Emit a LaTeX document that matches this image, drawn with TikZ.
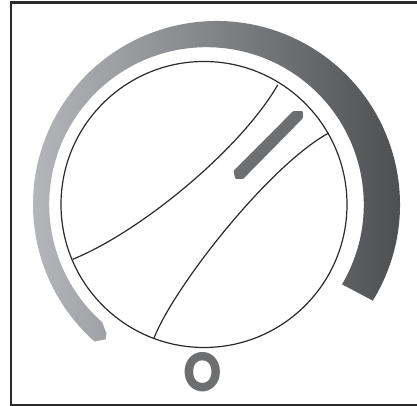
\documentclass[tikz,border=0pt]{standalone}
\usepackage{fontspec}
\usetikzlibrary{calc}
\setmainfont{Poppins}
\definecolor{framecol}{HTML}{2B2A2B}
\definecolor{linecol}{HTML}{2A2A2C}
\definecolor{markcol}{HTML}{6D6E70}
\definecolor{bandlight}{HTML}{BABBBE}
\definecolor{banddark}{HTML}{47484A}
\tikzset{
  framestyle/.style={draw=framecol,line width=2.4pt},
  dialline/.style={draw=linecol,line width=1.2pt},
  band/.style={left color=bandlight,right color=banddark,draw=none},
  pointer/.style={fill=markcol,draw=none,rounded corners=0.8pt},
  zerolabel/.style={text=markcol,font=\fontsize{49}{49}\selectfont\bfseries,inner sep=0pt,yscale=1.12,transform shape}
}
\begin{document}
\begin{tikzpicture}[x=1pt,y=1pt]
\useasboundingbox (0,0) rectangle (417,406);
\fill[white] (0,0) rectangle (417,406);
% frame, open on the right
\draw[framestyle] (417,403.6) -- (11,403.6) -- (11,0.8) -- (417,0.8);
% gauge band
\path[band]
  ($(216.5,201.5)+(-31.6:183.5)$) arc[start angle=-31.6,end angle=228.3,radius=183.5]
  -- (105.5,66.5) -- (106.5,72.5)
  -- ($(206.5,201.5)+(228.4:157.3)$) arc[start angle=228.4,end angle=-30.5,radius=157.3]
  -- cycle;
% dial
\coordinate (dialc) at (204,201.5);
\draw[dialline] (dialc) circle[radius=143];
\coordinate (a1) at (72.7,146.7);
\coordinate (a2) at (277.7,321);
\coordinate (b1) at (154,68);
\coordinate (b2) at (328.7,273);
\draw[dialline] (a1) .. controls (140,174) and (240,256) .. (a2);
\draw[dialline] (b1) .. controls (175,121) and (270,241) .. (b2);
% pointer
\path[pointer] (293,294.8) -- (302.8,294.8) -- (302.8,287.7) -- (243.3,227.2) -- (235.2,227.2) -- (233.5,235) -- cycle;
% zero mark
\node[zerolabel] (zero) at (203,34) {O};
\end{tikzpicture}
\end{document}
